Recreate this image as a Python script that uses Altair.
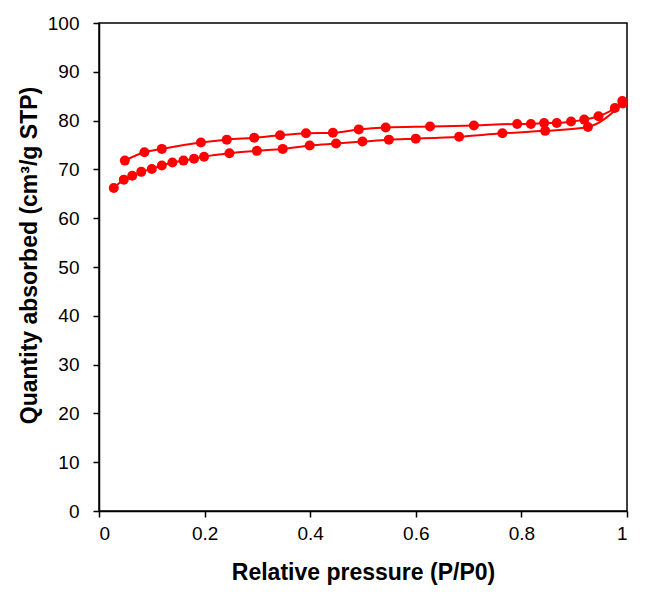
import altair as alt
import pandas as pd

ads_x = [0.028, 0.047, 0.063, 0.080, 0.100, 0.119, 0.139, 0.160, 0.180, 0.199,
         0.247, 0.299, 0.348, 0.399, 0.449, 0.499, 0.549, 0.600, 0.682, 0.764,
         0.845, 0.926, 0.992]
ads_y = [66.2, 67.9, 68.7, 69.5, 70.1, 70.8, 71.4, 71.8, 72.2, 72.6,
         73.3, 73.8, 74.2, 74.9, 75.3, 75.7, 76.1, 76.3, 76.7, 77.4,
         77.9, 78.7, 83.5]

des_x = [0.049, 0.086, 0.119, 0.193, 0.242, 0.294, 0.343, 0.392, 0.443, 0.492,
         0.543, 0.627, 0.710, 0.792, 0.818, 0.843, 0.867, 0.894, 0.919, 0.946,
         0.977, 0.991]
des_y = [71.8, 73.5, 74.2, 75.5, 76.1, 76.5, 77.0, 77.4, 77.5, 78.2,
         78.6, 78.8, 79.0, 79.3, 79.3, 79.5, 79.5, 79.8, 80.2, 80.9,
         82.6, 84.0]

x_ticks = [0, 0.2, 0.4, 0.6, 0.8, 1]
y_ticks = [0, 10, 20, 30, 40, 50, 60, 70, 80, 90, 100]

df = pd.concat([
    pd.DataFrame({"x": ads_x, "y": ads_y, "branch": "adsorption"}),
    pd.DataFrame({"x": des_x, "y": des_y, "branch": "desorption"}),
])

font = "Liberation Sans"

x_enc = alt.X("x:Q", scale=alt.Scale(domain=[0, 1], nice=False),
              axis=alt.Axis(values=x_ticks, title="Relative pressure (P/P0)",
                            labelExpr="datum.value == 0 ? '0' : datum.value == 1 ? '1' : format(datum.value, '.1f')",
                            labelPadding=7, titlePadding=18))
y_enc = alt.Y("y:Q", scale=alt.Scale(domain=[0, 100], nice=False),
              axis=alt.Axis(values=y_ticks, title="Quantity absorbed (cm³/g STP)",
                            labelPadding=14, titlePadding=6, titleY=232))

lines = alt.Chart(df).mark_line(color="#FF0000", strokeWidth=2, interpolate="monotone").encode(
    x=x_enc, y=y_enc, detail="branch:N", order="x:Q")
points = alt.Chart(df).mark_circle(color="#FF0000", size=100, opacity=1).encode(
    x=x_enc, y=y_enc)

chart = (lines + points).properties(
    width=528, height=488,
    autosize=alt.AutoSizeParams(type="none"),
    padding={"left": 91, "top": 15, "right": 15, "bottom": 80},
).configure_view(stroke="black", strokeWidth=1.5).configure_axis(
    grid=False, domainColor="black", tickColor="black", tickSize=6,
    domainWidth=1.5, tickWidth=1.5,
    labelFont=font, labelFontSize=19, labelColor="black",
    titleFont=font, titleFontSize=23, titleFontWeight="bold", titleColor="black",
)

chart.save("out.html", embed_options={"renderer": "svg", "actions": False})
